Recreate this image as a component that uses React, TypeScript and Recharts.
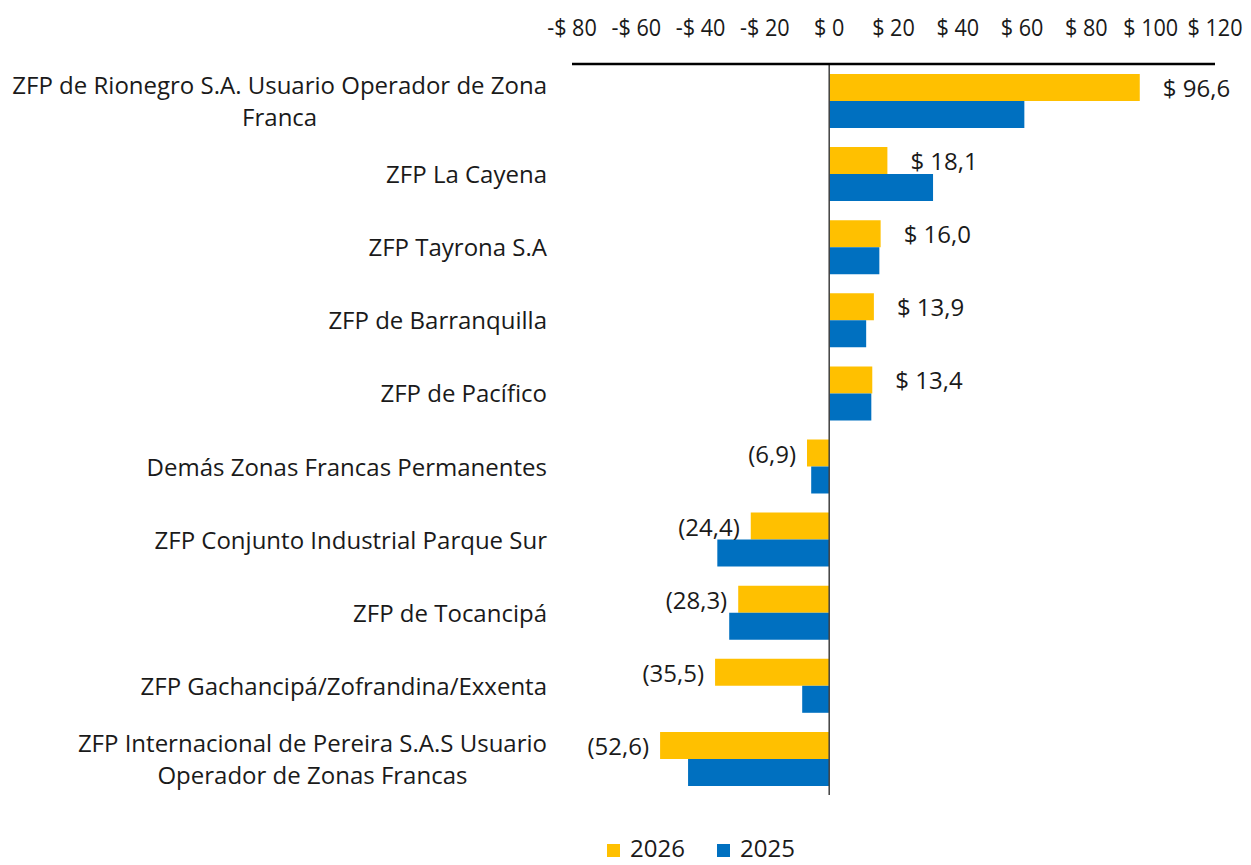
import React from 'react'
import {
  BarChart,
  Bar,
  XAxis,
  YAxis,
  ReferenceLine,
  LabelList,
  Legend,
} from 'recharts'

// ─── Data ─────────────────────────────────────────────────────────────────────

const zonas = [
  'ZFP de Rionegro S.A. Usuario Operador de Zona|Franca',
  'ZFP La Cayena',
  'ZFP Tayrona S.A',
  'ZFP de Barranquilla',
  'ZFP de Pacífico',
  'Demás Zonas Francas Permanentes',
  'ZFP Conjunto Industrial Parque Sur',
  'ZFP de Tocancipá',
  'ZFP Gachancipá/Zofrandina/Exxenta',
  'ZFP Internacional de Pereira S.A.S Usuario|Operador de Zonas Francas',
]

const valores2026 = [96.6, 18.1, 16.0, 13.9, 13.4, -6.9, -24.4, -28.3, -35.5, -52.6]
const valores2025 = [60.7, 32.3, 15.6, 11.5, 13.1, -5.6, -34.8, -31.1, -8.4, -43.9]

const xTicks = [-80, -60, -40, -20, 0, 20, 40, 60, 80, 100, 120]

const COLORS = {
  y2026: '#FFC000',
  y2025: '#0070C0',
}

const FONT = '"Open Sans", sans-serif'
const TEXT = '#1a1a1a'

const data = zonas.map((zona, i) => ({
  zona,
  y2026: valores2026[i],
  y2025: valores2025[i],
}))

// ─── Helpers ──────────────────────────────────────────────────────────────────

let canvasCtx: CanvasRenderingContext2D | null = null
function measure(text: string, size: number) {
  if (!canvasCtx) canvasCtx = document.createElement('canvas').getContext('2d')
  if (!canvasCtx) return text.length * size * 0.55
  canvasCtx.font = `${size}px "Open Sans"`
  return canvasCtx.measureText(text).width
}

const fmtMoney = (v: number) => {
  const s = Math.abs(v).toFixed(1).replace('.', ',')
  return v < 0 ? `(${s})` : `$ ${s}`
}

const fmtTick = (v: number) => (v < 0 ? `-$ ${Math.abs(v)}` : `$ ${v}`)

// ─── Ticks & labels ───────────────────────────────────────────────────────────

function CategoryTick({ x, y, payload }: any) {
  const size = 24
  const lines = String(payload.value).split('|')
  const lineH = 32
  if (lines.length === 1) {
    return (
      <text x={x} y={y} textAnchor="end" dominantBaseline="central"
        fontFamily={FONT} fontSize={size} fill={TEXT}>
        {lines[0]}
      </text>
    )
  }
  // multi-line labels are centred on each other, right edge on the axis gap
  const w = Math.max(...lines.map((l) => measure(l, size)))
  const cx = x - w / 2
  const y0 = y - ((lines.length - 1) * lineH) / 2
  return (
    <text textAnchor="middle" fontFamily={FONT} fontSize={size} fill={TEXT}>
      {lines.map((l, i) => (
        <tspan key={i} x={cx} y={y0 + i * lineH} dominantBaseline="central">
          {l}
        </tspan>
      ))}
    </text>
  )
}

function ValueTick({ x, y, payload }: any) {
  return (
    <text x={x} y={y} textAnchor="middle" dominantBaseline="central"
      fontFamily={FONT} fontSize={24} fill={TEXT}
      transform={`translate(${x} 0) scale(0.9 1) translate(${-x} 0)`}>
      {fmtTick(payload.value)}
    </text>
  )
}

function BarValueLabel({ x, y, width, height, value }: any) {
  const v = Number(value)
  const a = Number(x)
  const b = Number(x) + Number(width)
  const cy = Number(y) + Number(height) / 2
  const pos = v >= 0
  return (
    <text x={pos ? Math.max(a, b) + 23 : Math.min(a, b) - 11} y={cy}
      textAnchor={pos ? 'start' : 'end'} dominantBaseline="central"
      fontFamily={FONT} fontSize={24} fill={TEXT}>
      {fmtMoney(v)}
    </text>
  )
}

function ChartLegend() {
  const items = [
    { label: '2026', color: COLORS.y2026 },
    { label: '2025', color: COLORS.y2025 },
  ]
  return (
    <div style={{ display: 'flex', justifyContent: 'center', gap: 32, paddingLeft: 187, fontFamily: FONT, fontSize: 24, color: TEXT, lineHeight: '24px' }}>
      {items.map((it) => (
        <div key={it.label} style={{ display: 'flex', alignItems: 'center', gap: 10 }}>
          <span style={{ width: 13, height: 13, background: it.color, display: 'inline-block', marginTop: 4 }} />
          <span>{it.label}</span>
        </div>
      ))}
    </div>
  )
}

// ─── Component ────────────────────────────────────────────────────────────────

export default function App() {
  return (
    <div style={{ position: 'absolute', left: 0, top: 0, width: 1251, height: 865, background: '#fff' }}>
      <BarChart
        width={1251}
        height={865}
        data={data}
        layout="vertical"
        margin={{ top: 0, right: 36, left: 0, bottom: 46 }}
        barSize={27}
        barGap={0}
      >
        <XAxis
          type="number"
          orientation="top"
          domain={[-80, 120]}
          ticks={xTicks}
          height={64}
          tickSize={0}
          tickMargin={37}
          tickLine={false}
          axisLine={{ stroke: '#000', strokeWidth: 2.5 }}
          tick={<ValueTick />}
          interval={0}
        />
        <YAxis
          type="category"
          dataKey="zona"
          width={572}
          tickSize={0}
          tickMargin={25}
          tickLine={false}
          axisLine={false}
          tick={<CategoryTick />}
          interval={0}
        />
        <Legend
          content={<ChartLegend />}
          verticalAlign="bottom"
          wrapperStyle={{ bottom: 5 }}
        />
        <Bar dataKey="y2026" name="2026" fill={COLORS.y2026} isAnimationActive={false}>
          <LabelList dataKey="y2026" content={<BarValueLabel />} />
        </Bar>
        <Bar dataKey="y2025" name="2025" fill={COLORS.y2025} isAnimationActive={false} />
        <ReferenceLine x={0} stroke="#404040" strokeWidth={1.5} />
      </BarChart>
    </div>
  )
}
